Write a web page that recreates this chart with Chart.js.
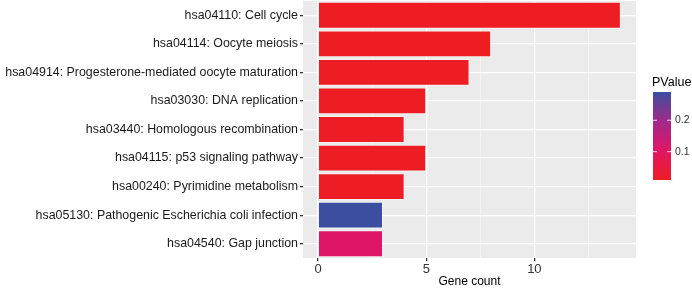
<!DOCTYPE html>
<html>
<head>
<meta charset="utf-8">
<script src="https://cdn.jsdelivr.net/npm/chart.js@4.4.1/dist/chart.umd.min.js"></script>
<style>
  html, body { margin: 0; padding: 0; background: #fff; }
  #wrap { width: 692px; height: 289px; position: relative; }
</style>
</head>
<body>
<div id="wrap"><canvas id="chart"></canvas></div>
<script>
// KEGG pathways, top to bottom
const pathways = [
    'hsa04110: Cell cycle',
    'hsa04114: Oocyte meiosis',
    'hsa04914: Progesterone-mediated oocyte maturation',
    'hsa03030: DNA replication',
    'hsa03440: Homologous recombination',
    'hsa04115: p53 signaling pathway',
    'hsa00240: Pyrimidine metabolism',
    'hsa05130: Pathogenic Escherichia coli infection',
    'hsa04540: Gap junction'
];
const geneCounts = [14, 8, 7, 5, 4, 5, 4, 3, 3];
const pValues = [0.0097, 0.0099, 0.010, 0.010, 0.011, 0.010, 0.011, 0.29, 0.11];

const majorTicks = [0, 5, 10];
const legendTicks = [0.1, 0.2];

// colour scale red -> blue (through magenta), t in 0..1
const colorStops = [
    [0, [238, 29, 36]],
    [0.36, [222, 22, 104]],
    [0.68, [158, 42, 140]],
    [1, [60, 78, 160]]
];
const pMin = Math.min(...pValues);
const pMax = Math.max(...pValues);

function pColor(p) {
    const t = Math.max(0, Math.min(1, (p - pMin) / (pMax - pMin)));
    for (let i = 1; i < colorStops.length; i++) {
        const [t1, c1] = colorStops[i];
        const [t0, c0] = colorStops[i - 1];
        if (t <= t1) {
            const f = (t - t0) / (t1 - t0);
            const c = c0.map((v, k) => Math.round(v + (c1[k] - v) * f));
            return `rgb(${c[0]}, ${c[1]}, ${c[2]})`;
        }
    }
    return 'rgb(60, 78, 160)';
}

// gray ggplot panel
const panelBg = {
    id: 'panelBg',
    beforeDraw(chart) {
        const { ctx, chartArea: a } = chart;
        ctx.save();
        ctx.fillStyle = '#ebebeb';
        ctx.fillRect(a.left, a.top, a.right - a.left, a.bottom - a.top);
        ctx.restore();
    }
};

// continuous colour legend on the right
const colorLegend = {
    id: 'colorLegend',
    afterDraw(chart) {
        const ctx = chart.ctx;
        const x = 653, w = 18, top = 92, bottom = 180;
        ctx.save();
        ctx.font = '12.5px "Liberation Sans", Arial, sans-serif';
        ctx.fillStyle = '#000';
        ctx.textBaseline = 'middle';
        ctx.textAlign = 'left';
        ctx.fillText('PValue', 652, 83);

        const grad = ctx.createLinearGradient(0, bottom, 0, top);
        colorStops.forEach(([t, c]) => grad.addColorStop(t, `rgb(${c[0]}, ${c[1]}, ${c[2]})`));
        ctx.fillStyle = grad;
        ctx.fillRect(x, top, w, bottom - top);

        ctx.font = '10.5px "Liberation Sans", Arial, sans-serif';
        legendTicks.forEach(v => {
            const y = bottom - (v - pMin) / (pMax - pMin) * (bottom - top);
            ctx.strokeStyle = 'rgba(255,255,255,0.8)';
            ctx.lineWidth = 1;
            ctx.beginPath();
            ctx.moveTo(x, y); ctx.lineTo(x + 4, y);
            ctx.moveTo(x + w - 4, y); ctx.lineTo(x + w, y);
            ctx.stroke();
            ctx.fillStyle = '#333';
            ctx.fillText(String(v), x + w + 4, y);
        });
        ctx.restore();
    }
};

new Chart(document.getElementById('chart'), {
    type: 'bar',
    data: {
        labels: pathways,
        datasets: [{
            data: geneCounts,
            backgroundColor: pValues.map(pColor),
            borderColor: 'rgba(255,255,255,0.5)',
            borderWidth: 1,
            barPercentage: 0.94,
            categoryPercentage: 1
        }]
    },
    options: {
        indexAxis: 'y',
        responsive: true,
        maintainAspectRatio: false,
        animation: false,
        layout: { padding: { top: 1, right: 56, left: 0, bottom: 0 } },
        plugins: {
            legend: { display: false },
            tooltip: { enabled: false }
        },
        scales: {
            x: {
                min: -0.7,
                max: 14.7,
                afterBuildTicks(scale) {
                    const ticks = [];
                    majorTicks.forEach(v => {
                        ticks.push({ value: v });
                        ticks.push({ value: v + 2.5 });
                    });
                    scale.ticks = ticks;
                },
                afterFit(scale) {
                    scale.height = 31;
                    scale.paddingLeft = 0;
                    scale.paddingRight = 0;
                },
                border: { display: false },
                grid: {
                    color: ctx => majorTicks.includes(ctx.tick.value) ? '#ffffff' : 'rgba(255,255,255,0.75)',
                    lineWidth: ctx => majorTicks.includes(ctx.tick.value) ? 1.3 : 0.6,
                    tickColor: ctx => majorTicks.includes(ctx.tick.value) ? '#333' : 'rgba(0,0,0,0)',
                    tickLength: 3
                },
                ticks: {
                    autoSkip: false,
                    maxRotation: 0,
                    padding: 1,
                    color: '#333',
                    font: { family: '"Liberation Sans", Arial, sans-serif', size: 13 },
                    callback: v => majorTicks.includes(v) ? String(v) : ''
                },
                title: {
                    display: true,
                    text: 'Gene count',
                    color: '#000',
                    padding: { top: 0, bottom: 0 },
                    font: { family: '"Liberation Sans", Arial, sans-serif', size: 12 }
                }
            },
            y: {
                afterFit(scale) {
                    scale.width = 303;
                    scale.paddingTop = 0;
                    scale.paddingBottom = 0;
                },
                border: { display: false },
                grid: {
                    offset: false,
                    color: '#ffffff',
                    lineWidth: 1.3,
                    tickColor: '#333',
                    tickLength: 3
                },
                ticks: {
                    autoSkip: false,
                    padding: 2,
                    color: '#1a1a1a',
                    font: { family: '"Liberation Sans", Arial, sans-serif', size: 12.4 }
                }
            }
        }
    },
    plugins: [panelBg, colorLegend]
});
</script>
</body>
</html>
